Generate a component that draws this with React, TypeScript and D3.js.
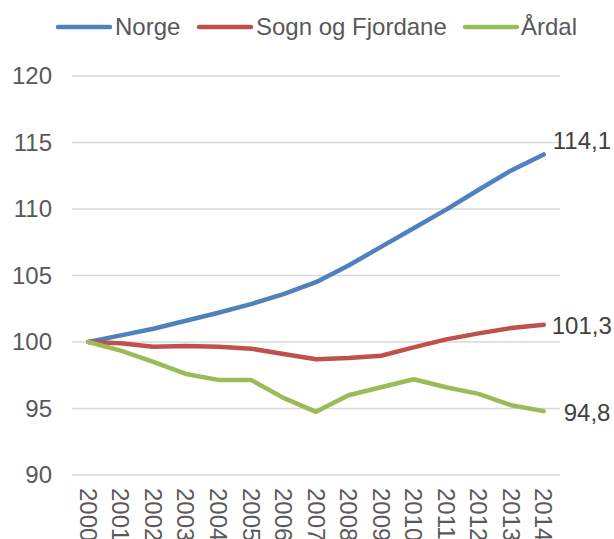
import React from "react";
import * as d3 from "d3";

const years = ["2000","2001","2002","2003","2004","2005","2006","2007","2008","2009","2010","2011","2012","2013","2014"];
const norge = [100, 100.5, 101.0, 101.6, 102.2, 102.85, 103.6, 104.5, 105.75, 107.15, 108.55, 109.95, 111.45, 112.9, 114.1];
const sognFjordane = [100, 99.9, 99.65, 99.7, 99.65, 99.5, 99.1, 98.7, 98.8, 98.97, 99.6, 100.2, 100.65, 101.05, 101.3];
const aardal = [100, 99.35, 98.5, 97.6, 97.15, 97.15, 95.8, 94.75, 96.0, 96.6, 97.2, 96.6, 96.1, 95.25, 94.8];
const yTicks = [90, 95, 100, 105, 110, 115, 120];
const endLabels = ["114,1", "101,3", "94,8"];

const series = [
  { name: "Norge", values: norge, color: "#4F81BD", label: endLabels[0], dx: 9, dy: -14 },
  { name: "Sogn og Fjordane", values: sognFjordane, color: "#C0504D", label: endLabels[1], dx: 8, dy: 1 },
  { name: "Årdal", values: aardal, color: "#9BBB59", label: endLabels[2], dx: 20, dy: 1 },
];

const legendLayout = [
  { lineX: 56, textX: 115 },
  { lineX: 197, textX: 256 },
  { lineX: 463, textX: 521 },
];

export default function App() {
  const W = 614, H = 539;
  const x = d3.scaleBand<string>().domain(years).range([72, 560]).padding(0);
  const cx = (y: string) => (x(y) ?? 0) + x.bandwidth() / 2;
  const y = d3.scaleLinear().domain([90, 120]).range([475, 76]);
  const line = d3.line<number>().x((_, i) => cx(years[i])).y((v) => y(v));
  const font = "'Liberation Sans', Arial, sans-serif";

  return (
    <svg width={W} height={H} style={{ position: "absolute", left: 0, top: 0, background: "#fff" }} fontFamily={font}>
      {yTicks.map((t) => (
        <g key={t}>
          <line x1={72} x2={560} y1={y(t)} y2={y(t)} stroke="#d9d9d9" strokeWidth={1.3} />
          <text x={52} y={y(t)} dy="0.35em" textAnchor="end" fontSize={24} fill="#595959">{t}</text>
        </g>
      ))}
      {years.map((yr) => (
        <text key={yr} transform={`translate(${cx(yr)},488) rotate(90)`} dy="0.35em" fontSize={24} fill="#595959">{yr}</text>
      ))}
      {series.map((s) => (
        <path key={s.name} d={line(s.values) ?? ""} fill="none" stroke={s.color} strokeWidth={4.5} strokeLinejoin="round" strokeLinecap="round" />
      ))}
      {series.map((s) => {
        const last = s.values[s.values.length - 1];
        return (
          <text key={s.name + "l"} x={cx(years[years.length - 1]) + s.dx} y={y(last) + s.dy} dy="0.35em" fontSize={24} fill="#404040">{s.label}</text>
        );
      })}
      {series.map((s, i) => (
        <g key={s.name + "lg"}>
          <line x1={legendLayout[i].lineX + 2} x2={legendLayout[i].lineX + 54} y1={27} y2={27} stroke={s.color} strokeWidth={4.5} strokeLinecap="round" />
          <text x={legendLayout[i].textX} y={27} dy="0.35em" fontSize={24} fill="#595959">{s.name}</text>
        </g>
      ))}
    </svg>
  );
}
